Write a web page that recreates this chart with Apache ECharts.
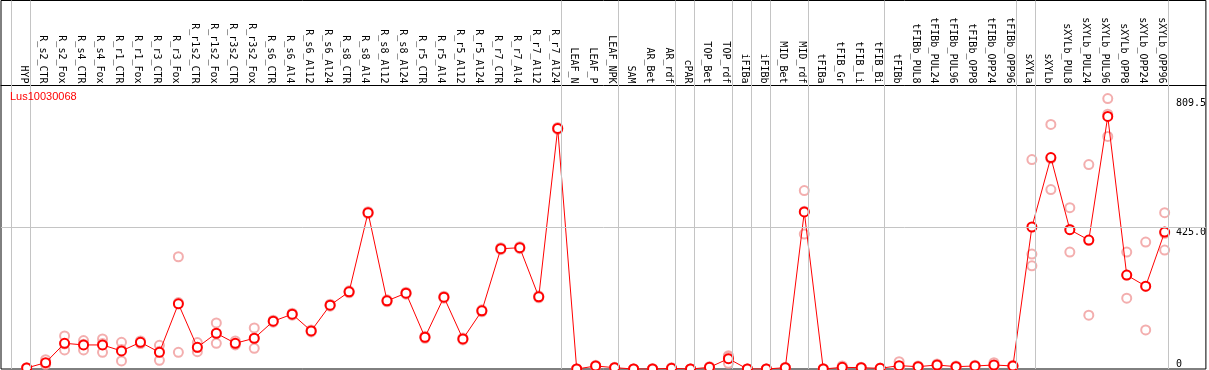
<!DOCTYPE html>
<html>
<head>
<meta charset="utf-8">
<script src="https://cdn.jsdelivr.net/npm/echarts@6/dist/echarts.min.js"></script>
<style>html,body{margin:0;padding:0;background:#fff;}#c{width:1209px;height:370px;}</style>
</head>
<body>
<div id="c"></div>
<script>
const categories = ['HYP','R_s2_CTR','R_s2_Fox','R_s4_CTR','R_s4_Fox','R_r1_CTR','R_r1_Fox','R_r3_CTR','R_r3_Fox','R_r1s2_CTR','R_r1s2_Fox','R_r3s2_CTR','R_r3s2_Fox','R_s6_CTR','R_s6_Al4','R_s6_Al12','R_s6_Al24','R_s8_CTR','R_s8_Al4','R_s8_Al12','R_s8_Al24','R_r5_CTR','R_r5_Al4','R_r5_Al12','R_r5_Al24','R_r7_CTR','R_r7_Al4','R_r7_Al12','R_r7_Al24','LEAF_N','LEAF_P','LEAF_NPK','SAM','AR_Bet','AR_rdf','cPAR','TOP_Bet','TOP_rdf','iFIBa','iFIBb','MID_Bet','MID_rdf','tFIBa','tFIB_Gr','tFIB_Li','tFIB_Bi','tFIBb','tFIBb_PUL8','tFIBb_PUL24','tFIBb_PUL96','tFIBb_OPP8','tFIBb_OPP24','tFIBb_OPP96','sXYLa','sXYLb','sXYLb_PUL8','sXYLb_PUL24','sXYLb_PUL96','sXYLb_OPP8','sXYLb_OPP24','sXYLb_OPP96'];

const means = [3,19,77,72,72,54,80,50,195,65,107,77,92,
  143,164,114,191,231,468,204,227,95,215,90,174,360,363,216,720,
  0,9,4,0,0,2,0,5,31,0,0,4,470,0,5,4,2,10,7,12,7,9,12,9,
  425,633,417,386,756,281,248,410];

const replicates = [
  [2,4,3],[28,15,14],[99,57,75],[85,57,74],[90,50,76],[80,24,58],[84,76,80],[71,26,53],[336,50,199],[79,52,64],[138,77,106],[84,72,75],[123,62,91],
  [146,140,143],[167,161,164],[117,111,114],[194,188,191],[234,228,231],[471,465,468],[207,201,204],[230,224,227],[98,92,95],[218,212,215],[93,87,90],[177,171,174],[363,357,360],[366,360,363],[219,213,216],[723,717,720],
  [0,0,0],[11,7,9],[5,3,4],[0,0,0],[1,0,1],[4,1,2],[0,0,0],[7,4,5],[40,17,36],[0,0,0],[0,0,0],[5,3,4],[534,404,472],
  [1,0,1],[9,3,4],[5,3,4],[3,1,2],[22,5,4],[9,6,7],[15,10,11],[9,6,7],[11,8,9],[19,9,9],[11,8,9],
  [627,344,309],[732,537,630],[483,350,418],[612,161,385],[809.5,696,762.5],[350,212,281],[380,117,247],[468,356,406]
];

// index of last category in each group (vertical separators drawn just after these)
const groupEnds = [-1,0,28,31,34,35,37,38,39,41,45,52,53,60];

const yTickValues = [0,425,809.5];
const yTickLabels = ['0','425.0','809.5'];
const geneName = 'Lus10030068';

const X_MIN = -1.3526, X_MAX = 62.174, Y_MAX = 1103;
const mono = 'DejaVu Sans Mono';

const repData = [];
replicates.forEach((r,i)=>r.forEach(v=>repData.push([i,v])));
const meanData = means.map((v,i)=>[i,v]);
const fmtY = v => yTickLabels[yTickValues.indexOf(v)];

const chart = echarts.init(document.getElementById('c'), null, {renderer:'canvas'});
chart.setOption({
  animation:false,
  backgroundColor:'#fff',
  title:{text:geneName,left:10,top:91,padding:0,
    textStyle:{color:'#ff0000',fontSize:11,fontWeight:'normal',fontFamily:'Liberation Sans'}},
  grid:{left:1,right:1,top:0.5,bottom:1,show:true,borderColor:'#000',borderWidth:1,backgroundColor:'#fff'},
  xAxis:{type:'value',min:X_MIN,max:X_MAX,position:'top',offset:-85,
    axisLine:{show:true,onZero:false,lineStyle:{color:'#000',width:1}},
    axisTick:{show:false},splitLine:{show:false},
    axisLabel:{show:true,rotate:90,margin:2,color:'#000',fontSize:10,fontFamily:mono,
      verticalAlign:'top',lineHeight:6,
      customValues:categories.map((_,i)=>i),
      formatter:v=>categories[Math.round(v)]}},
  yAxis:[
    {type:'value',min:0,max:Y_MAX,position:'right',
     axisLine:{show:false},axisTick:{show:false},splitLine:{show:false},
     axisLabel:{inside:true,margin:30,align:'left',verticalAlign:'top',color:'#000',fontSize:10,fontFamily:mono,
       customValues:[425,809.5],formatter:fmtY}},
    {type:'value',min:0,max:Y_MAX,position:'right',
     axisLine:{show:false},axisTick:{show:false},splitLine:{show:false},
     axisLabel:{inside:true,margin:30,align:'left',verticalAlign:'bottom',color:'#000',fontSize:10,fontFamily:mono,
       customValues:[0],formatter:fmtY}}
  ],
  series:[
    {type:'scatter',z:2,data:repData,symbol:'emptyCircle',symbolSize:9,
     itemStyle:{color:'#f09a9a',borderWidth:1.5},silent:true,
     markLine:{silent:true,symbol:'none',label:{show:false},
       lineStyle:{color:'#c4c4c4',width:1,type:'solid'},
       data:groupEnds.map(g=>({xAxis:g+0.2})).concat([{yAxis:425}])}},
    {type:'line',z:3,data:meanData,symbol:'emptyCircle',symbolSize:9,
     lineStyle:{color:'#ff0000',width:1},
     itemStyle:{color:'#ff0000',borderWidth:1.5},silent:true}
  ]
});
</script>
</body>
</html>
